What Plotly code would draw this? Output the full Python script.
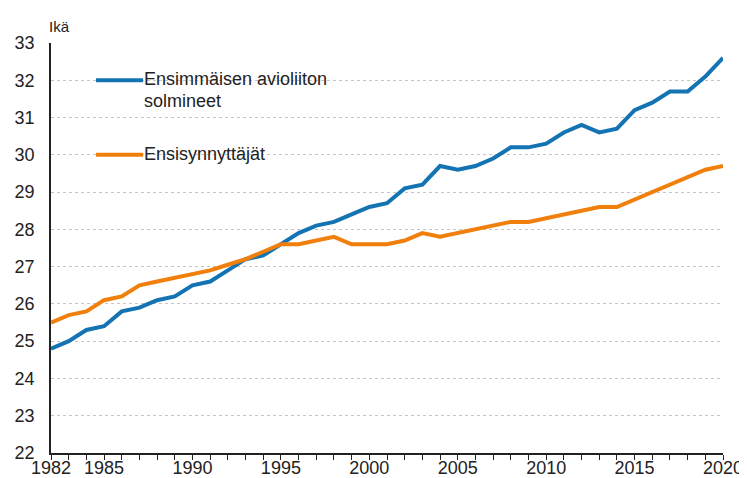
import plotly.graph_objects as go

years = list(range(1982, 2021))
avioliitto = [24.8, 25.0, 25.3, 25.4, 25.8, 25.9, 26.1, 26.2, 26.5, 26.6,
              26.9, 27.2, 27.3, 27.6, 27.9, 28.1, 28.2, 28.4, 28.6, 28.7,
              29.1, 29.2, 29.7, 29.6, 29.7, 29.9, 30.2, 30.2, 30.3, 30.6,
              30.8, 30.6, 30.7, 31.2, 31.4, 31.7, 31.7, 32.1, 32.6]
synnyttajat = [25.5, 25.7, 25.8, 26.1, 26.2, 26.5, 26.6, 26.7, 26.8, 26.9,
               27.05, 27.2, 27.4, 27.6, 27.6, 27.7, 27.8, 27.6, 27.6, 27.6,
               27.7, 27.9, 27.8, 27.9, 28.0, 28.1, 28.2, 28.2, 28.3, 28.4,
               28.5, 28.6, 28.6, 28.8, 29.0, 29.2, 29.4, 29.6, 29.7]
x_labels = [1982, 1985, 1990, 1995, 2000, 2005, 2010, 2015, 2020]
name_lines = [["Ensimmäisen avioliiton", "solmineet"], ["Ensisynnyttäjät"]]
colors = ["#1373b3", "#f07f0c"]
legend_y = [32, 30]

FONT = "Liberation Sans, Arial, sans-serif"
TXT = "#222222"

fig = go.Figure()
for vals, lines, col in zip([avioliitto, synnyttajat], name_lines, colors):
    fig.add_trace(go.Scatter(x=years, y=vals, mode="lines", name=" ".join(lines),
                             line=dict(color=col, width=4), showlegend=False))

# legend drawn as line samples + text
for lines, col, ly in zip(name_lines, colors, legend_y):
    fig.add_shape(type="line", xref="paper", yref="y", x0=0.067, x1=0.137,
                  y0=ly, y1=ly, line=dict(color=col, width=4))
    for i, t in enumerate(lines):
        fig.add_annotation(xref="paper", yref="y", x=0.139, y=ly, text=t,
                           showarrow=False, xanchor="left", yanchor="middle",
                           yshift=1 - 22 * i, xshift=-2,
                           font=dict(size=18, color=TXT, family=FONT))

fig.add_annotation(xref="paper", yref="paper", x=0, y=1.0, yshift=6, xshift=-4,
                   text="Ikä", showarrow=False, xanchor="left", yanchor="bottom",
                   font=dict(size=15, color=TXT, family=FONT))

# the page body has an 8px margin, so the figure is sized to fill the rest
fig.update_layout(
    width=739, height=470,
    margin=dict(l=43, r=24, t=35, b=25),
    paper_bgcolor="white", plot_bgcolor="white",
    font=dict(family=FONT, size=18, color=TXT),
)
fig.update_xaxes(range=[1982, 2020], tickvals=x_labels, ticktext=[str(v) for v in x_labels],
                 ticks="outside", ticklen=5, tickcolor=TXT, showgrid=False,
                 showline=True, linecolor=TXT, linewidth=1.5,
                 minor=dict(ticks="outside", dtick=1, tick0=1982, ticklen=5, tickcolor=TXT),
                 tickfont=dict(size=18), automargin=False, ticklabelstandoff=-7)
fig.update_yaxes(range=[22, 33], dtick=1, showgrid=True, gridcolor="#c4c4c4", griddash="dot",
                 gridwidth=1, showline=True, linecolor=TXT, linewidth=1.5,
                 ticks="", tickfont=dict(size=18), zeroline=False, automargin=False,
                 ticklabelstandoff=11)

fig.write_html("out.html")
